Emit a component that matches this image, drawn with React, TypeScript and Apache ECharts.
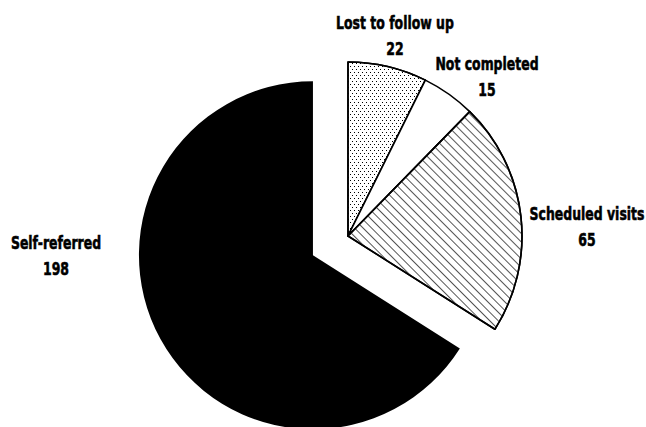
import React, { useEffect, useRef } from "react";
import * as echarts from "echarts";

const categories = ["Lost to follow up", "Not completed", "Scheduled visits", "Self-referred"];
const values = [22, 15, 65, 198];
// label anchor (center) positions per category
const labelPos: [number, number][] = [
  [395, 36],
  [487, 77],
  [587, 227],
  [56, 256],
];

const FONT_FAMILY = "'DejaVu Sans', sans-serif";
const FONT_SIZE = 18;

export default function App() {
  const ref = useRef<HTMLDivElement>(null);
  useEffect(() => {
    if (!ref.current) return;
    const chart = echarts.init(ref.current, null, { renderer: "svg" });

    // condense the bold font to mimic a condensed typeface
    const cv = document.createElement("canvas");
    const ctx = cv.getContext("2d")!;
    ctx.font = `bold ${FONT_SIZE}px ${FONT_FAMILY}`;
    const w = ctx.measureText(categories[0]).width || 160;
    const sx = 118 / w;

    const dotDecal = {
      symbol: "rect",
      symbolSize: 1,
      color: "#000",
      dashArrayX: [[1, 3], [0, 2, 1, 1]],
      dashArrayY: [1, 1.2],
      rotation: 0,
    };
    const hatchDecal = {
      symbol: "rect",
      symbolSize: 1,
      color: "#555",
      dashArrayX: [1, 0],
      dashArrayY: [0.7, 4.6],
      rotation: Math.PI / 4,
    };
    const styles = [
      { color: "#fff", borderColor: "#000", borderWidth: 1.6, decal: dotDecal },
      { color: "#fff", borderColor: "#000", borderWidth: 1.6 },
      { color: "#fff", borderColor: "#000", borderWidth: 1.6, decal: hatchDecal },
      { color: "#000", borderColor: "#000", borderWidth: 0 },
    ];
    const data = categories.map((name, i) => ({
      name,
      value: values[i],
      selected: i === 3,
      itemStyle: styles[i],
      select: { itemStyle: styles[i] },
    }));
    const texts = categories.map((name, i) => ({
      type: "text",
      x: labelPos[i][0],
      y: labelPos[i][1],
      scaleX: sx,
      silent: true,
      style: {
        text: `${name}\n${values[i]}`,
        fill: "#000",
        stroke: "#000",
        lineWidth: 0.6,
        fontFamily: FONT_FAMILY,
        fontWeight: "bold",
        fontSize: FONT_SIZE,
        lineHeight: 26,
        align: "center",
        verticalAlign: "middle",
      },
    }));
    chart.setOption({
      animation: false,
      backgroundColor: "#fff",
      aria: { enabled: false, decal: { show: false } },
      graphic: texts,
      series: [
        {
          type: "pie",
          center: [348, 236],
          radius: 174,
          startAngle: 90,
          clockwise: true,
          selectedMode: "single",
          selectedOffset: 40,
          silent: true,
          label: { show: false },
          labelLine: { show: false },
          data,
        },
      ],
    });
    return () => chart.dispose();
  }, []);
  return (
    <div
      ref={ref}
      style={{ position: "fixed", left: 0, top: 0, width: 646, height: 427 }}
    />
  );
}
